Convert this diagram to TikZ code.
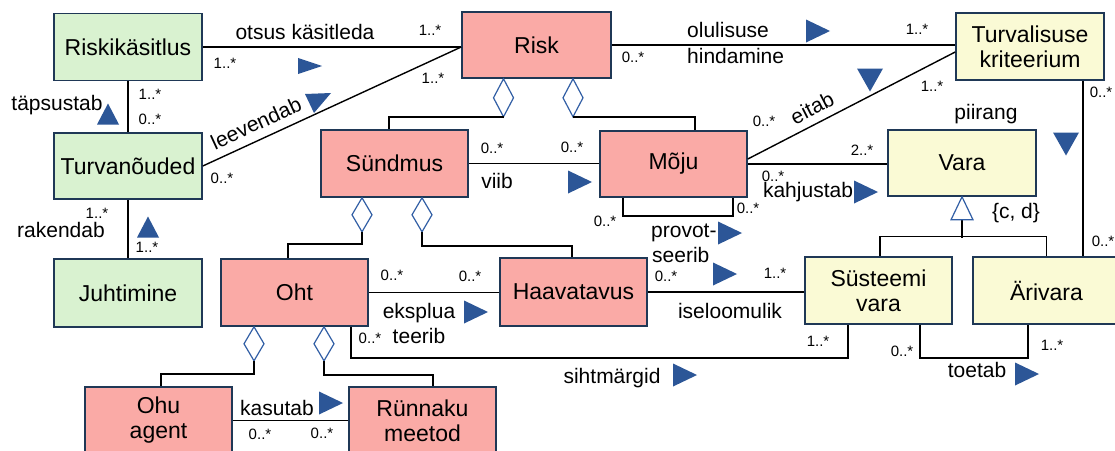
\documentclass[tikz,border=0pt]{standalone}
\usepackage{fontspec}
\setmainfont{Liberation Sans}
\definecolor{boxline}{RGB}{31,56,86}
\definecolor{ctrlfill}{RGB}{217,242,208}
\definecolor{threatfill}{RGB}{250,170,166}
\definecolor{assetfill}{RGB}{250,250,213}
\definecolor{markblue}{RGB}{44,86,151}
\definecolor{aggblue}{RGB}{50,95,165}
\begin{document}
\begin{tikzpicture}[x=1pt,y=-1pt,
  cls/.style={draw=boxline, line width=1.6pt, minimum width=148pt, minimum height=67pt,
    inner sep=0pt, align=center, font=\fontsize{23}{25}\selectfont, text=black},
  lbl/.style={font=\fontsize{21}{25}\selectfont, inner sep=0pt, text=black},
  mult/.style={font=\fontsize{15}{18}\selectfont, inner sep=0pt, text=black},
  conn/.style={draw=black, line width=1.4pt},
  aggd/.style={draw=aggblue, fill=white, line width=1.2pt, line join=miter},
  rtri/.pic={\fill[markblue] (-12,-11.5) -- (12,0) -- (-12,11.5) -- cycle;},
  dtri/.pic={\fill[markblue] (-13,-11.5) -- (13,-11.5) -- (0,11.5) -- cycle;},
  utri/.pic={\fill[markblue] (-11,10.5) -- (11,10.5) -- (0,-10.5) -- cycle;},
]
\clip (0,0) rectangle (1115,450);
\fill[white] (0,0) rectangle (1115,450);

% classes
\node[cls, fill=ctrlfill] (rk) at (128,47) {Riskikäsitlus};
\node[cls, fill=threatfill, minimum width=149pt, minimum height=66pt] (risk) at (536.5,45) {Risk};
\node[cls, fill=assetfill] (tk) at (1030,46.5) {Turvalisuse\\kriteerium};
\node[cls, fill=ctrlfill, minimum height=66pt] (tn) at (128,166) {Turvanõuded};
\node[cls, fill=threatfill, minimum width=147pt] (sun) at (394.5,163.5) {Sündmus};
\node[cls, fill=threatfill, minimum width=147pt, minimum height=66pt] (moju) at (673.5,164) {Mõju};
\node[cls, fill=assetfill, minimum height=66pt] (vara) at (962,163) {Vara};
\node[cls, fill=ctrlfill, minimum height=68pt] (juh) at (128,293) {Juhtimine};
\node[cls, fill=threatfill, minimum width=147pt] (oht) at (294.5,292.5) {Oht};
\node[cls, fill=threatfill, minimum width=147pt, minimum height=68pt] (haav) at (573.5,292) {Haavatavus};
\node[cls, fill=assetfill, minimum width=147pt] (sv) at (878.5,290.5) {Süsteemi\\vara};
\node[cls, fill=assetfill, minimum width=147pt] (ari) at (1046.5,290.5) {Ärivara};
\node[cls, fill=threatfill, minimum width=147pt] (agent) at (158.5,420.5) {Ohu\\agent};
\node[cls, fill=threatfill, minimum width=147pt] (meetod) at (422.5,420.5) {Rünnaku\\meetod};

% associations
\coordinate (rjoin) at (rk.east -| risk.west);
\draw[conn] (rk.east) -- (rjoin);
\draw[conn] (tn.east) -- (rjoin);
\draw[conn] (rk.south) -- (tn.north);
\draw[conn] (tn.south) -- (juh.north);
\draw[conn] (risk.east) -- (risk.east -| tk.west);
\draw[conn] ([yshift=5pt]moju.east) -- ([yshift=-5.5pt]tk.west);
\draw[conn] (moju.east) -- (moju.east -| vara.west);
\draw[conn] (sun.east) -- (sun.east -| moju.west);
\draw[conn] ([xshift=-50.5pt]moju.south) -- ++(0,18) -| ([xshift=59.5pt]moju.south);
\draw[conn] (oht.east) -- (oht.east -| haav.west);
\draw[conn] (haav.east) -- (haav.east -| sv.west);
\draw[conn] ([xshift=56.5pt]oht.south) -- ++(0,31) -| ([xshift=-30.5pt]sv.south);
\draw[conn] ([xshift=41.5pt]sv.south) -- ++(0,33) -| ([xshift=-18.5pt]ari.south);
\draw[conn] (agent.east) -- (agent.east -| meetod.west);
\coordinate (tkdown) at ([xshift=53pt]tk.south);
\draw[conn] (tkdown) -- (tkdown |- ari.north);

% generalization of Vara
\coordinate (gbase) at ([yshift=-23pt]vara.south);
\draw[conn] (gbase) -- ++(0,18);
\draw[conn] ([xshift=1.5pt]sv.north) -- ++(0,-20) -| (ari.north);
\draw[aggd] (vara.south) -- ++(11,23) -- ++(-22,0) -- cycle;

% aggregations
\coordinate (dR1) at ([xshift=-33pt]risk.south);
\coordinate (dR2) at ([xshift=36.5pt]risk.south);
\coordinate (dS1) at ([xshift=-32.5pt]sun.south);
\coordinate (dS2) at ([xshift=27.5pt]sun.south);
\coordinate (dO1) at ([xshift=-40.5pt]oht.south);
\coordinate (dO2) at ([xshift=29.5pt]oht.south);
\draw[aggd] (dR1) -- ++(10,19) -- ++(-10,19) coordinate (dR1b) -- ++(-10,-19) -- cycle;
\draw[aggd] (dR2) -- ++(10,19) -- ++(-10,19) coordinate (dR2b) -- ++(-10,-19) -- cycle;
\draw[aggd] (dS1) -- ++(10,17) -- ++(-10,17) coordinate (dS1b) -- ++(-10,-17) -- cycle;
\draw[aggd] (dS2) -- ++(10,17) -- ++(-10,17) coordinate (dS2b) -- ++(-10,-17) -- cycle;
\draw[aggd] (dO1) -- ++(10,17) -- ++(-10,17) coordinate (dO1b) -- ++(-10,-17) -- cycle;
\draw[aggd] (dO2) -- ++(10,17) -- ++(-10,17) coordinate (dO2b) -- ++(-10,-17) -- cycle;
\draw[conn] (dR1b) -| ([xshift=-5.5pt]sun.north);
\draw[conn] (dR2b) -| ([xshift=21.5pt]moju.north);
\draw[conn] (dS1b) -- ++(0,12) -| ([xshift=-6.5pt]oht.north);
\draw[conn] (dS2b) -- ++(0,14) -| ([xshift=-1.5pt]haav.north);
\draw[conn] (dO1b) -- ++(0,13) -| ([xshift=2.5pt]agent.north);
\draw[conn] (dO2b) -- ++(0,14) -| ([xshift=10.5pt]meetod.north);

% association names
\node[lbl, anchor=base] (l1) at (305,39) {otsus käsitleda};
\node[lbl, rotate=24.8] (l2) at (256,123) {leevendab};
\node[lbl, anchor=base] (l3) at (57,110) {täpsustab};
\node[lbl, anchor=base] (l4) at (61,237) {rakendab};
\node[lbl, anchor=base west] (l5) at (687,37) {olulisuse};
\node[lbl, anchor=base west] (l6) at (687,63) {hindamine};
\node[lbl, rotate=27] (l7) at (812,108) {eitab};
\node[lbl, anchor=base] (l8) at (986,119) {piirang};
\node[lbl, anchor=base] (l9) at (497,188) {viib};
\node[lbl, anchor=base] (l10) at (808,197) {kahjustab};
\node[lbl, anchor=base west] (l11) at (651,237) {provot-};
\node[lbl, anchor=base west] (l12) at (652,262) {seerib};
\node[lbl, anchor=base] (l13) at (1016,218) {\{c, d\}};
\node[lbl, anchor=base] (l14) at (419,318) {eksplua};
\node[lbl, anchor=base] (l15) at (419,343) {teerib};
\node[lbl, anchor=base] (l16) at (730,318) {iseloomulik};
\node[lbl, anchor=base] (l17) at (612,383) {sihtmärgid};
\node[lbl, anchor=base] (l18) at (977,377) {toetab};
\node[lbl, anchor=base] (l19) at (277,415) {kasutab};

% multiplicities
\node[mult] (m1) at (430,30) {1..*};
\node[mult] (m2) at (225,63) {1..*};
\node[mult] (m3) at (433,78) {1..*};
\node[mult] (m4) at (222,178) {0..*};
\node[mult] (m5) at (150,94) {1..*};
\node[mult] (m6) at (150,119) {0..*};
\node[mult] (m7) at (97,213) {1..*};
\node[mult] (m8) at (147,247) {1..*};
\node[mult] (m9) at (633,57) {0..*};
\node[mult] (m10) at (917,29) {1..*};
\node[mult] (m11) at (764,121) {0..*};
\node[mult] (m12) at (932,86) {1..*};
\node[mult] (m13) at (862,150) {2..*};
\node[mult] (m14) at (773,176) {0..*};
\node[mult] (m15) at (492,148) {0..*};
\node[mult] (m16) at (572,147) {0..*};
\node[mult] (m17) at (605,221) {0..*};
\node[mult] (m18) at (748,208) {0..*};
\node[mult] (m19) at (1101,92) {0..*};
\node[mult] (m20) at (1103,241) {0..*};
\node[mult] (m21) at (392,275) {0..*};
\node[mult] (m22) at (470,276) {0..*};
\node[mult] (m23) at (666,276) {0..*};
\node[mult] (m24) at (775,273) {1..*};
\node[mult] (m25) at (370,338) {0..*};
\node[mult] (m26) at (818,341) {1..*};
\node[mult] (m27) at (902,351) {0..*};
\node[mult] (m28) at (1052,345) {1..*};
\node[mult] (m29) at (260,434) {0..*};
\node[mult] (m30) at (322,433) {0..*};

% reading-direction markers
\pic[yscale=0.7] at (310,66) {rtri};
\fill[markblue] (305,94) -- (331,93) -- (314,113) -- cycle;
\pic at (108,114) {utri};
\pic at (148,227) {utri};
\pic at (818,31) {rtri};
\pic at (870,80) {dtri};
\pic at (1066,144) {dtri};
\pic at (580,182) {rtri};
\pic at (866,192) {rtri};
\pic at (730,233) {rtri};
\pic at (476,312) {rtri};
\pic at (725,274) {rtri};
\pic at (685,375) {rtri};
\pic at (1027,374) {rtri};
\pic at (331,403) {rtri};
\end{tikzpicture}
\end{document}
